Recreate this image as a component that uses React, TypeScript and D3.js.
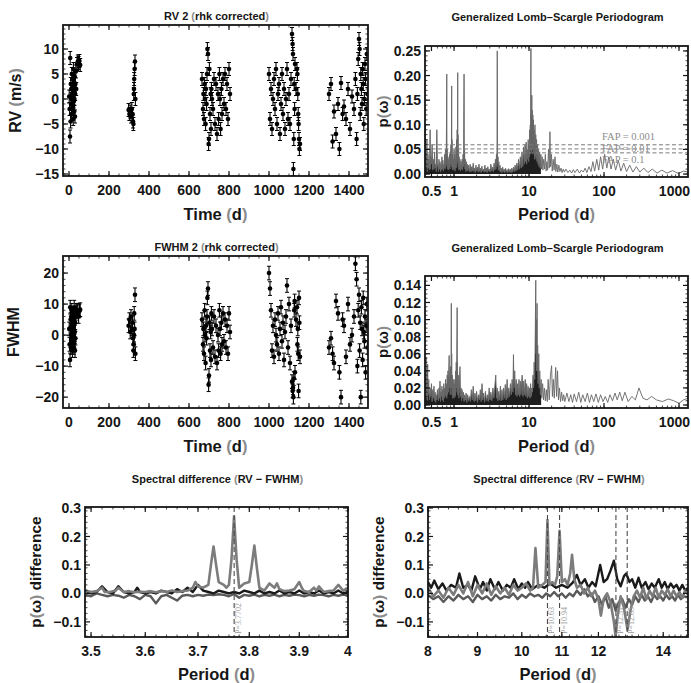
import React, { useRef, useEffect } from "react";
import * as d3 from "d3";

// ---------------- data ----------------

// observation epochs (d), shared by RV and FWHM
const obsTime = [
  1, 3, 5, 6, 8, 9, 10, 11, 12, 13,
  14, 15, 16, 17, 18, 19, 20, 21, 22, 23,
  24, 25, 26, 27, 28, 29, 30, 31, 32, 34,
  36, 40, 44, 48, 52, 56,
  298, 302, 306, 310, 314, 318, 320, 322, 324, 325,
  326, 328, 330, 332,
  665, 670, 672, 675, 678, 680, 683, 685, 688, 690,
  692, 695, 698, 700, 702, 705, 708, 710, 712, 715,
  720, 725, 730, 735, 740, 745, 748, 752, 755, 758,
  762, 765, 770, 775, 780, 785, 790, 795, 800, 805,
  1000, 1005, 1010, 1015, 1020, 1025, 1030, 1035, 1040, 1045,
  1050, 1055, 1060, 1065, 1070, 1075, 1080, 1085, 1090, 1095,
  1100, 1105, 1110, 1115, 1118, 1120, 1122, 1124, 1126, 1128,
  1130, 1135, 1140, 1142, 1144, 1146, 1148, 1150, 1152, 1155,
  1300, 1310, 1318, 1325, 1335, 1345, 1352, 1360, 1368, 1375,
  1385, 1395, 1405, 1415, 1425, 1432, 1438, 1442, 1446, 1450,
  1453, 1456, 1459, 1462, 1465, 1468, 1471, 1474, 1477, 1480,
  1483, 1486, 1489, 1492,
];

// RV 2 (rhk corrected), m/s
const rvValues = [
  0.5, -2, -7.5, 8.2, -4.5, 3, -1, 2, 0, -3,
  5, 1, -2, 4, 0.5, -1.5, 2.5, -4, 6, 1.5,
  -0.5, 3.5, -2.5, 0, 4.5, 2, -3.5, 1, 3, 5.5,
  2, 7, 7.5, 7.2, 7.6, 6.8,
  -2.2, -3, -2.5, -3.5, -2, -3, -4.5, -5, 1, 2,
  4, 6, 7.5, 0,
  4, -2, 1, -4, 3, 0, -5, 2, -1, 5,
  10, 9, -9, -8, 6, -3, 1, -6, 2, 0,
  -2, 4, -5, 3, -7, 1, -4, 5, 0, -6,
  2, -3, 4, -1, 5, -2, 3, -4, 6, 1,
  5, -4, 2, -6, 0, 4, -2, 6, -5, 1,
  3, -7, -1, 5, -3, 2, -6, 0, 6, -4,
  1, -5, 4, 13, 11, 9, -14, -8, 3, -2,
  7, 2, 6, 5, 1, -3, -5, -8, -10, -9,
  1, 3, -8.5, -2.5, -7, -1, -10, 3.2, -3, -1.5,
  -4, 2, -6, 0.5, -2, 4, -8, 1, 8, 12,
  10, -3, 5, 2, -1, 6, 3, -5, 0, 7,
  4, -2, 9, 1,
];

// FWHM 2 (rhk corrected)
const fwhmValues = [
  2, -3, -8, 9, 5, -4, 0, 6, -2, 3,
  8, -1, 4, -5, 1, 7, -3, 2, 5, 0,
  -4, 3, 9, -2, 6, 1, -5, 4, -1, 7,
  8, 7.5, 8, 6, 7.8, 8.2,
  3, 5, 1, 6, 2, 4, -1, -5, -3, 0,
  7, 2, 13, -6,
  5, -3, 2, -6, 8, 0, -9, 3, -1, 6,
  12, 15, -16, -13, 4, -5, 1, -8, 7, 2,
  -4, 6, -7, 3, -9, 0, -5, 8, 2, -6,
  4, -3, 7, -2, 5, -4, 3, -6, 7, 1,
  20, 15, 8, -5, 3, -7, 5, 0, -3, 7,
  -6, 2, 9, -2, 4, -8, 1, 6, 16, -4,
  10, -9, 3, -15, -18, -17, -20, -14, 8, 11,
  -12, 5, 9, -3, 2, -6, -18, 12, 4, -7,
  -4, -1, -6, -9, 11, 7, -12, -20, 5, 3,
  -7, 10, -3, 0, 6, 23, 18, -10, 8, 13,
  -5, 4, -20, 9, 2, -8, 12, 1, -2, 6,
  -12, 3, 10, -4,
];

const rvError = 1.3;
const fwhmError = 2.2;

// Generalized Lomb-Scargle periodogram of RV: [period (d), power]
const rvGls = [
  [0.41, 0.02], [0.415, 0.1], [0.42, 0.01], [0.425, 0.05], [0.43, 0.015], [0.435, 0.07], [0.44, 0.005], [0.45, 0.04],
  [0.455, 0.012], [0.46, 0.03], [0.47, 0.008], [0.48, 0.09], [0.485, 0.01], [0.49, 0.035], [0.5, 0.02], [0.51, 0.06],
  [0.52, 0.008], [0.53, 0.03], [0.54, 0.01], [0.55, 0.045], [0.56, 0.012], [0.57, 0.02], [0.58, 0.005], [0.59, 0.09],
  [0.6, 0.015], [0.61, 0.02], [0.62, 0.005], [0.63, 0.03], [0.64, 0.01], [0.65, 0.025], [0.66, 0.004], [0.67, 0.02],
  [0.68, 0.008], [0.69, 0.035], [0.7, 0.01], [0.71, 0.028], [0.72, 0.006], [0.73, 0.02], [0.74, 0.012], [0.75, 0.04],
  [0.76, 0.01], [0.77, 0.05], [0.78, 0.015], [0.79, 0.06], [0.8, 0.203], [0.805, 0.02], [0.81, 0.05], [0.82, 0.01],
  [0.83, 0.035], [0.84, 0.008], [0.85, 0.03], [0.86, 0.012], [0.87, 0.04], [0.88, 0.01], [0.89, 0.045], [0.9, 0.02],
  [0.91, 0.06], [0.92, 0.015], [0.93, 0.179], [0.935, 0.02], [0.94, 0.07], [0.95, 0.01], [0.96, 0.04], [0.97, 0.008],
  [0.98, 0.03], [0.99, 0.012], [1.0, 0.05], [1.01, 0.01], [1.02, 0.04], [1.03, 0.006], [1.04, 0.03], [1.05, 0.015],
  [1.06, 0.055], [1.07, 0.012], [1.08, 0.07], [1.09, 0.02], [1.1, 0.09], [1.11, 0.03], [1.12, 0.206], [1.125, 0.025],
  [1.13, 0.08], [1.14, 0.015], [1.15, 0.05], [1.16, 0.008], [1.17, 0.035], [1.18, 0.01], [1.2, 0.03], [1.22, 0.006],
  [1.24, 0.025], [1.26, 0.01], [1.28, 0.03], [1.3, 0.008], [1.32, 0.04], [1.34, 0.015], [1.36, 0.203], [1.37, 0.02],
  [1.38, 0.05], [1.4, 0.01], [1.42, 0.03], [1.44, 0.005], [1.46, 0.025], [1.48, 0.008], [1.5, 0.02], [1.53, 0.006],
  [1.56, 0.018], [1.6, 0.005], [1.64, 0.02], [1.68, 0.004], [1.72, 0.015], [1.76, 0.006], [1.8, 0.022], [1.84, 0.005],
  [1.88, 0.012], [1.92, 0.003], [1.96, 0.018], [2.0, 0.006], [2.05, 0.014], [2.1, 0.004], [2.15, 0.02], [2.2, 0.005],
  [2.25, 0.012], [2.3, 0.003], [2.35, 0.016], [2.4, 0.006], [2.46, 0.01], [2.52, 0.004], [2.58, 0.018], [2.64, 0.005],
  [2.7, 0.012], [2.76, 0.003], [2.82, 0.015], [2.88, 0.006], [2.95, 0.01], [3.02, 0.004], [3.1, 0.02], [3.18, 0.006],
  [3.26, 0.014], [3.34, 0.005], [3.42, 0.022], [3.5, 0.008], [3.56, 0.03], [3.62, 0.01], [3.68, 0.04], [3.72, 0.015],
  [3.75, 0.06], [3.77, 0.25], [3.79, 0.04], [3.82, 0.02], [3.86, 0.035], [3.9, 0.008], [3.96, 0.025], [4.02, 0.006],
  [4.1, 0.018], [4.18, 0.004], [4.26, 0.012], [4.35, 0.003], [4.45, 0.014], [4.55, 0.005], [4.65, 0.01], [4.75, 0.003],
  [4.86, 0.012], [4.97, 0.004], [5.1, 0.009], [5.22, 0.003], [5.35, 0.011], [5.48, 0.004], [5.62, 0.01], [5.76, 0.003],
  [5.9, 0.012], [6.05, 0.004], [6.2, 0.014], [6.36, 0.005], [6.52, 0.018], [6.7, 0.006], [6.88, 0.022], [7.05, 0.008],
  [7.25, 0.03], [7.45, 0.01], [7.65, 0.035], [7.85, 0.012], [8.05, 0.045], [8.25, 0.015], [8.45, 0.055], [8.65, 0.02],
  [8.85, 0.06], [9.0, 0.025], [9.15, 0.065], [9.3, 0.02], [9.45, 0.05], [9.6, 0.03], [9.75, 0.07], [9.9, 0.025],
  [10.0, 0.06], [10.1, 0.035], [10.2, 0.09], [10.3, 0.04], [10.4, 0.1], [10.5, 0.05], [10.6, 0.255], [10.65, 0.06],
  [10.7, 0.12], [10.8, 0.045], [10.9, 0.16], [10.95, 0.06], [11.05, 0.13], [11.15, 0.05], [11.25, 0.12], [11.35, 0.04],
  [11.45, 0.11], [11.55, 0.05], [11.7, 0.09], [11.85, 0.03], [12.0, 0.1], [12.15, 0.035], [12.3, 0.08], [12.45, 0.03],
  [12.6, 0.07], [12.8, 0.025], [13.0, 0.06], [13.2, 0.02], [13.4, 0.05], [13.6, 0.015], [13.85, 0.045], [14.1, 0.012],
  [14.4, 0.04], [14.7, 0.01], [15.0, 0.035], [15.3, 0.008], [15.7, 0.03], [16.1, 0.01], [16.5, 0.04], [16.9, 0.006],
  [17.3, 0.025], [17.7, 0.008], [18.2, 0.05], [18.6, 0.012], [19.0, 0.086], [19.4, 0.015], [19.9, 0.04], [20.4, 0.006],
  [21.0, 0.03], [21.6, 0.008], [22.2, 0.035], [22.8, 0.005], [23.5, 0.02], [24.2, 0.004], [25.0, 0.018], [25.8, 0.005],
  [26.7, 0.012], [27.6, 0.003], [28.6, 0.01], [29.6, 0.004], [31, 0.01], [33, 0.003], [35, 0.008], [37, 0.002],
  [39, 0.009], [41, 0.003], [44, 0.01], [47, 0.002], [50, 0.008], [53, 0.004], [56, 0.012], [59, 0.003],
  [63, 0.015], [67, 0.005], [71, 0.025], [75, 0.006], [80, 0.03], [85, 0.008], [90, 0.035], [96, 0.01],
  [102, 0.04], [109, 0.012], [116, 0.035], [124, 0.01], [133, 0.03], [143, 0.008], [155, 0.028], [168, 0.006],
  [183, 0.022], [200, 0.005], [220, 0.018], [243, 0.004], [270, 0.015], [300, 0.004], [340, 0.012], [385, 0.003],
  [440, 0.01], [510, 0.002], [590, 0.008], [690, 0.002], [820, 0.007], [980, 0.001], [1150, 0.006], [1320, 0.004],
];

// Generalized Lomb-Scargle periodogram of FWHM: [period (d), power]
const fwhmGls = [
  [0.41, 0.015], [0.415, 0.04], [0.42, 0.008], [0.425, 0.056], [0.43, 0.01], [0.435, 0.03], [0.44, 0.005], [0.445, 0.048],
  [0.45, 0.012], [0.46, 0.03], [0.47, 0.006], [0.48, 0.02], [0.49, 0.01], [0.5, 0.025], [0.51, 0.004], [0.52, 0.018],
  [0.53, 0.008], [0.54, 0.022], [0.55, 0.005], [0.56, 0.015], [0.57, 0.003], [0.58, 0.012], [0.59, 0.006], [0.6, 0.018],
  [0.62, 0.005], [0.63, 0.02], [0.64, 0.008], [0.65, 0.028], [0.66, 0.004], [0.67, 0.015], [0.68, 0.01], [0.69, 0.022],
  [0.7, 0.006], [0.71, 0.018], [0.72, 0.004], [0.73, 0.025], [0.74, 0.008], [0.75, 0.02], [0.76, 0.01], [0.77, 0.03],
  [0.78, 0.012], [0.79, 0.025], [0.8, 0.008], [0.81, 0.035], [0.82, 0.012], [0.83, 0.04], [0.84, 0.015], [0.86, 0.058],
  [0.87, 0.02], [0.88, 0.035], [0.89, 0.012], [0.9, 0.045], [0.91, 0.02], [0.92, 0.119], [0.925, 0.02], [0.93, 0.06],
  [0.94, 0.012], [0.95, 0.035], [0.96, 0.008], [0.97, 0.025], [0.98, 0.01], [0.99, 0.03], [1.0, 0.008], [1.01, 0.025],
  [1.02, 0.012], [1.03, 0.03], [1.04, 0.01], [1.05, 0.04], [1.06, 0.015], [1.07, 0.05], [1.08, 0.02], [1.09, 0.06],
  [1.1, 0.114], [1.105, 0.02], [1.11, 0.05], [1.12, 0.012], [1.14, 0.035], [1.16, 0.008], [1.18, 0.025], [1.2, 0.045],
  [1.22, 0.01], [1.24, 0.02], [1.26, 0.005], [1.28, 0.018], [1.3, 0.008], [1.33, 0.015], [1.36, 0.004], [1.39, 0.012],
  [1.42, 0.006], [1.45, 0.014], [1.48, 0.003], [1.52, 0.012], [1.56, 0.005], [1.6, 0.01], [1.65, 0.004], [1.7, 0.018],
  [1.75, 0.006], [1.8, 0.022], [1.85, 0.004], [1.9, 0.014], [1.95, 0.005], [2.0, 0.016], [2.06, 0.003], [2.12, 0.012],
  [2.18, 0.006], [2.24, 0.018], [2.3, 0.004], [2.36, 0.025], [2.42, 0.006], [2.48, 0.014], [2.55, 0.003], [2.62, 0.016],
  [2.7, 0.005], [2.78, 0.012], [2.86, 0.004], [2.94, 0.02], [3.02, 0.006], [3.1, 0.015], [3.2, 0.005], [3.3, 0.02],
  [3.4, 0.008], [3.5, 0.022], [3.6, 0.035], [3.68, 0.008], [3.76, 0.02], [3.85, 0.005], [3.95, 0.016], [4.05, 0.006],
  [4.15, 0.022], [4.25, 0.005], [4.36, 0.018], [4.47, 0.006], [4.58, 0.02], [4.7, 0.008], [4.82, 0.024], [4.95, 0.006],
  [5.1, 0.03], [5.22, 0.008], [5.35, 0.02], [5.5, 0.01], [5.65, 0.025], [5.8, 0.012], [5.95, 0.03], [6.1, 0.015],
  [6.2, 0.059], [6.3, 0.02], [6.45, 0.04], [6.6, 0.012], [6.75, 0.03], [6.9, 0.01], [7.05, 0.025], [7.2, 0.012],
  [7.35, 0.03], [7.5, 0.01], [7.65, 0.028], [7.8, 0.012], [7.95, 0.025], [8.1, 0.035], [8.3, 0.01], [8.5, 0.028],
  [8.7, 0.012], [8.9, 0.03], [9.1, 0.01], [9.3, 0.025], [9.5, 0.008], [9.7, 0.022], [9.9, 0.01], [10.1, 0.02],
  [10.3, 0.008], [10.5, 0.025], [10.7, 0.01], [10.9, 0.02], [11.1, 0.015], [11.3, 0.035], [11.5, 0.02], [11.7, 0.05],
  [11.9, 0.03], [12.1, 0.08], [12.3, 0.146], [12.4, 0.06], [12.55, 0.1], [12.65, 0.04], [12.8, 0.119], [12.9, 0.04],
  [13.05, 0.07], [13.2, 0.025], [13.5, 0.06], [13.7, 0.02], [13.9, 0.04], [14.2, 0.012], [14.5, 0.03], [14.8, 0.008],
  [15.2, 0.025], [15.6, 0.006], [16.0, 0.02], [16.5, 0.005], [17.0, 0.018], [17.5, 0.004], [18.0, 0.03], [18.6, 0.006],
  [19.3, 0.035], [20.0, 0.046], [20.5, 0.01], [21.1, 0.03], [21.7, 0.008], [22.7, 0.044], [23.3, 0.01], [24.0, 0.04],
  [24.7, 0.006], [25.5, 0.02], [26.3, 0.004], [27.2, 0.015], [28.1, 0.005], [29.0, 0.012], [30, 0.004], [32, 0.014],
  [34, 0.004], [36, 0.012], [38, 0.003], [40, 0.013], [43, 0.004], [46, 0.015], [49, 0.003], [52, 0.012],
  [56, 0.004], [60, 0.014], [64, 0.003], [68, 0.012], [73, 0.004], [78, 0.013], [84, 0.003], [90, 0.012],
  [97, 0.004], [104, 0.01], [112, 0.003], [120, 0.012], [130, 0.005], [140, 0.014], [150, 0.006], [162, 0.015],
  [175, 0.005], [190, 0.015], [210, 0.004], [235, 0.01], [262, 0.006], [292, 0.02], [330, 0.008], [375, 0.006],
  [430, 0.01], [500, 0.006], [600, 0.004], [720, 0.007], [850, 0.005], [1000, 0.002], [1150, 0.006], [1320, 0.008],
];

// the densely sampled short-period part of each periodogram prints as a black forest
const forestLimit = 14.5;

// false alarm probability levels (RV periodogram)
const fapLevels = [0.0594, 0.051, 0.043];
const fapLabels = ["FAP = 0.001", "FAP = 0.01", "FAP = 0.1"];

// spectral difference (RV − FWHM) around 3.77 d: [period, difference]
const diffNarrowGray = [
  [3.49, 0.01], [3.5, 0.005], [3.51, 0.008], [3.52, 0.02], [3.525, 0.005], [3.535, 0.005], [3.545, 0.01], [3.55, 0.02],
  [3.56, 0.005], [3.57, 0.008], [3.58, 0.004], [3.59, 0.006], [3.6, 0.005], [3.61, 0.008], [3.62, 0.004], [3.63, 0.008],
  [3.64, 0.005], [3.65, 0.01], [3.66, 0.005], [3.67, 0.008], [3.68, 0.01], [3.69, 0.02], [3.695, 0.04], [3.7, 0.025],
  [3.71, 0.02], [3.72, 0.03], [3.725, 0.1], [3.73, 0.165], [3.735, 0.1], [3.74, 0.04], [3.75, 0.03], [3.755, 0.02],
  [3.76, 0.03], [3.765, 0.12], [3.77, 0.27], [3.775, 0.12], [3.78, 0.02], [3.79, 0.035], [3.8, 0.04], [3.805, 0.1],
  [3.81, 0.168], [3.815, 0.09], [3.82, 0.02], [3.83, 0.01], [3.84, 0.035], [3.85, 0.02], [3.855, 0.035], [3.86, 0.015],
  [3.87, 0.008], [3.88, 0.01], [3.89, 0.015], [3.9, 0.04], [3.905, 0.02], [3.91, 0.008], [3.92, 0.005], [3.93, 0.02],
  [3.935, 0.01], [3.94, 0.025], [3.95, 0.005], [3.96, 0.008], [3.97, 0.01], [3.98, 0.03], [3.99, 0.01], [4.0, 0.02],
];
const diffNarrowBlack = [
  [3.49, 0.01], [3.5, 0.0], [3.51, 0.005], [3.52, 0.025], [3.53, 0.005], [3.54, 0.0], [3.55, 0.025], [3.56, 0.005],
  [3.57, 0.0], [3.58, 0.005], [3.585, 0.02], [3.59, 0.005], [3.6, 0.0], [3.61, 0.005], [3.62, 0.0], [3.63, 0.01],
  [3.64, 0.005], [3.65, 0.0], [3.66, 0.015], [3.67, 0.005], [3.68, 0.02], [3.69, 0.005], [3.7, 0.03], [3.71, 0.01],
  [3.72, 0.005], [3.73, 0.0], [3.74, 0.01], [3.75, 0.005], [3.76, 0.0], [3.77, 0.005], [3.78, 0.0], [3.79, 0.01],
  [3.8, 0.005], [3.81, 0.0], [3.82, 0.01], [3.83, 0.0], [3.84, 0.005], [3.85, 0.0], [3.86, 0.01], [3.87, 0.0],
  [3.88, 0.005], [3.89, 0.0], [3.9, 0.01], [3.91, 0.0], [3.92, 0.005], [3.93, 0.0], [3.94, 0.01], [3.95, 0.0],
  [3.96, 0.005], [3.97, 0.0], [3.98, 0.01], [3.99, 0.0], [4.0, 0.005],
];
const diffNarrowDark = [
  [3.49, -0.005], [3.5, -0.01], [3.51, 0.0], [3.52, -0.005], [3.53, -0.01], [3.54, -0.005], [3.55, -0.008], [3.56, -0.015],
  [3.57, -0.005], [3.58, -0.01], [3.59, -0.02], [3.6, -0.005], [3.61, -0.01], [3.62, -0.035], [3.63, -0.01], [3.64, -0.005],
  [3.65, -0.015], [3.66, -0.025], [3.67, -0.008], [3.68, -0.005], [3.69, -0.01], [3.7, -0.005], [3.71, -0.008], [3.72, -0.004],
  [3.73, -0.006], [3.74, -0.003], [3.75, -0.005], [3.76, -0.01], [3.77, -0.002], [3.78, -0.015], [3.79, -0.005], [3.8, -0.008],
  [3.81, -0.004], [3.82, -0.01], [3.83, -0.005], [3.84, -0.008], [3.85, -0.004], [3.86, -0.01], [3.87, -0.005], [3.88, -0.008],
  [3.89, -0.004], [3.9, -0.006], [3.91, -0.01], [3.92, -0.005], [3.93, -0.008], [3.94, -0.004], [3.95, -0.006], [3.96, -0.01],
  [3.97, -0.005], [3.98, -0.008], [3.99, -0.004], [4.0, -0.006],
];
const narrowMarks = [3.7702];
const narrowMarkLabels = ["P=3.7702"];

// spectral difference (RV − FWHM) between 8 and 15 d
const diffWideGray = [
  [8.0, 0.02], [8.1, -0.01], [8.2, 0.01], [8.3, -0.015], [8.4, 0.02], [8.5, -0.005], [8.6, 0.03], [8.7, 0.0],
  [8.8, 0.04], [8.9, -0.01], [9.0, 0.03], [9.1, 0.0], [9.2, 0.035], [9.3, -0.005], [9.4, 0.025], [9.5, 0.0],
  [9.6, 0.02], [9.7, -0.005], [9.8, 0.03], [9.9, 0.01], [10.0, 0.02], [10.1, 0.035], [10.2, 0.01], [10.27, 0.02],
  [10.33, 0.159], [10.4, 0.02], [10.5, 0.03], [10.58, 0.04], [10.63, 0.258], [10.68, 0.03], [10.75, 0.04], [10.82, 0.03],
  [10.88, 0.06], [10.94, 0.22], [11.0, 0.04], [11.08, 0.05], [11.15, 0.03], [11.22, 0.07], [11.27, 0.136], [11.33, 0.05],
  [11.4, 0.02], [11.5, 0.03], [11.6, 0.0], [11.7, 0.02], [11.8, -0.01], [11.9, 0.01], [12.0, -0.02], [12.07, -0.078],
  [12.15, -0.02], [12.25, 0.0], [12.35, -0.03], [12.45, -0.1], [12.5, -0.152], [12.56, -0.08], [12.65, -0.01], [12.75, -0.05],
  [12.86, -0.128], [12.95, -0.06], [13.05, -0.01], [13.15, 0.01], [13.25, -0.015], [13.35, 0.02], [13.45, -0.02], [13.55, 0.01],
  [13.65, -0.01], [13.75, 0.02], [13.85, -0.015], [13.95, 0.01], [14.05, -0.005], [14.15, 0.015], [14.25, -0.01], [14.35, 0.01],
  [14.45, -0.01], [14.55, 0.005], [14.65, -0.015], [14.75, 0.01], [14.85, -0.005],
];
const diffWideBlack = [
  [8.0, 0.04], [8.06, 0.02], [8.12, 0.045], [8.2, 0.015], [8.28, 0.035], [8.36, 0.01], [8.45, 0.03], [8.55, 0.02],
  [8.62, 0.07], [8.7, 0.02], [8.8, 0.03], [8.87, 0.01], [8.95, 0.06], [9.05, 0.015], [9.12, 0.04], [9.2, 0.01],
  [9.28, 0.05], [9.38, 0.015], [9.46, 0.04], [9.56, 0.01], [9.65, 0.03], [9.74, 0.02], [9.82, 0.05], [9.92, 0.015],
  [10.0, 0.035], [10.08, 0.02], [10.15, 0.04], [10.25, 0.015], [10.4, 0.03], [10.55, 0.02], [10.7, 0.035], [10.85, 0.02],
  [11.0, 0.03], [11.15, 0.02], [11.3, 0.04], [11.4, 0.065], [11.5, 0.03], [11.62, 0.05], [11.72, 0.02], [11.82, 0.04],
  [11.92, 0.025], [12.05, 0.1], [12.15, 0.04], [12.25, 0.05], [12.35, 0.08], [12.45, 0.115], [12.55, 0.05], [12.65, 0.025],
  [12.75, 0.06], [12.82, 0.07], [12.92, 0.04], [13.0, 0.05], [13.1, 0.02], [13.2, 0.055], [13.3, 0.02], [13.42, 0.04],
  [13.52, 0.015], [13.62, 0.035], [13.72, 0.02], [13.85, 0.05], [13.95, 0.02], [14.05, 0.04], [14.15, 0.015], [14.25, 0.035],
  [14.35, 0.02], [14.45, 0.03], [14.55, 0.01], [14.65, 0.03], [14.75, 0.01], [14.85, 0.02],
];
const diffWideDark = [
  [8.0, -0.005], [8.1, -0.02], [8.2, -0.01], [8.3, -0.03], [8.4, -0.01], [8.5, -0.025], [8.6, -0.005], [8.7, -0.02],
  [8.8, -0.01], [8.9, -0.03], [9.0, -0.005], [9.1, -0.02], [9.2, -0.01], [9.3, -0.025], [9.4, -0.005], [9.5, -0.02],
  [9.6, -0.01], [9.7, -0.015], [9.8, 0.0], [9.9, -0.02], [10.0, -0.005], [10.1, -0.015], [10.2, 0.0], [10.3, -0.01],
  [10.4, -0.005], [10.5, -0.015], [10.6, 0.0], [10.7, -0.01], [10.8, 0.005], [10.9, -0.01], [11.0, 0.0], [11.1, -0.015],
  [11.2, 0.0], [11.3, -0.01], [11.4, 0.01], [11.5, -0.005], [11.6, 0.015], [11.7, -0.01], [11.8, 0.0], [11.9, -0.03],
  [12.0, -0.01], [12.1, -0.04], [12.2, -0.01], [12.3, -0.05], [12.4, -0.02], [12.5, -0.06], [12.6, -0.03], [12.7, -0.02],
  [12.8, -0.05], [12.9, -0.02], [13.0, -0.04], [13.1, -0.01], [13.2, -0.03], [13.3, -0.005], [13.4, -0.025], [13.5, -0.01],
  [13.6, -0.03], [13.7, -0.005], [13.8, -0.02], [13.9, -0.01], [14.0, -0.025], [14.1, -0.005], [14.2, -0.02], [14.3, -0.01],
  [14.4, -0.025], [14.5, -0.005], [14.6, -0.02], [14.7, -0.01], [14.85, -0.015],
];
const wideMarks = [10.63, 10.94, 12.51, 12.85];
const wideMarkLabels = ["P=10.63", "P=10.94", "P=12.51", "P=12.85"];

// tick values
const timeTicks = [0, 200, 400, 600, 800, 1000, 1200, 1400];
const rvTicks = [-15, -10, -5, 0, 5, 10];
const fwhmTicks = [-20, -10, 0, 10, 20];
const periodTicks = [0.5, 1, 10, 100, 1000];
const rvPowerTicks = [0, 0.05, 0.1, 0.15, 0.2, 0.25];
const fwhmPowerTicks = [0, 0.02, 0.04, 0.06, 0.08, 0.1, 0.12, 0.14];
const diffTicks = [-0.1, 0, 0.1, 0.2, 0.3];
const narrowPeriodTicks = [3.5, 3.6, 3.7, 3.8, 3.9, 4];
const widePeriodTicks = [8, 9, 10, 11, 12, 14];

// ---------------- drawing helpers ----------------

const FONT = "'Liberation Sans', Arial, Helvetica, sans-serif";
const INK = "#161616";
const PAREN = "#8c8c8c";

type Part = [string, boolean?];

function rich(sel: any, parts: Part[]) {
  parts.forEach(([t, gray]) => sel.append("tspan").text(t).attr("fill", gray ? PAREN : INK));
}

const minus = (s: string) => s.replace("-", "\u2212");

function drawFrame(svg: any, o: any) {
  const { x, y } = o;
  const [l, r] = x.range();
  const [b, t] = y.range();
  const g = svg.append("g");

  const tick = (x1: number, y1: number, x2: number, y2: number, w: number) =>
    g.append("line").attr("x1", x1).attr("y1", y1).attr("x2", x2).attr("y2", y2)
      .attr("stroke", INK).attr("stroke-width", w);

  o.xMinor.forEach((v: number) => {
    const px = x(v);
    if (px < l || px > r) return;
    tick(px, b, px, b - 2.5, 0.8);
    tick(px, t, px, t + 2.5, 0.8);
  });
  o.yMinor.forEach((v: number) => {
    const py = y(v);
    if (py > b || py < t) return;
    tick(l, py, l + 2.5, py, 0.8);
    tick(r, py, r - 2.5, py, 0.8);
  });
  o.xTicks.forEach((v: number) => {
    const px = x(v);
    tick(px, b, px, b - 5, 1.2);
    tick(px, t, px, t + 5, 1.2);
    const lab = g.append("text").attr("x", px).attr("y", b + 19).attr("text-anchor", "middle")
      .attr("font-family", FONT).attr("font-weight", "bold").attr("font-size", 14)
      .attr("fill", INK).text(minus(o.xFmt(v)));
    // keep labels inside the page
    const w = (lab.node() as SVGTextElement).getComputedTextLength();
    if (px + w / 2 > 690) lab.attr("x", 690 - w / 2);
  });
  o.yTicks.forEach((v: number) => {
    const py = y(v);
    tick(l, py, l + 5, py, 1.2);
    tick(r, py, r - 5, py, 1.2);
    g.append("text").attr("x", l - 4).attr("y", py).attr("dy", "0.36em").attr("text-anchor", "end")
      .attr("font-family", FONT).attr("font-weight", "bold").attr("font-size", 14)
      .attr("fill", INK).text(minus(o.yFmt(v)));
  });

  g.append("rect").attr("x", l).attr("y", t).attr("width", r - l).attr("height", b - t)
    .attr("fill", "none").attr("stroke", INK).attr("stroke-width", 1.8);

  const title = g.append("text").attr("x", (l + r) / 2 + 1).attr("y", o.titleY)
    .attr("text-anchor", "middle").attr("font-family", FONT).attr("font-weight", "bold")
    .attr("font-size", 11);
  rich(title, o.title);

  const xl = g.append("text").attr("x", (l + r) / 2).attr("y", b + o.xLabelDy)
    .attr("text-anchor", "middle").attr("font-family", FONT).attr("font-weight", "bold")
    .attr("font-size", 16.5);
  rich(xl, o.xLabel);

  const yl = g.append("text")
    .attr("transform", `translate(${o.yLabelX},${(t + b) / 2}) rotate(-90)`)
    .attr("text-anchor", "middle").attr("font-family", FONT).attr("font-weight", "bold")
    .attr("font-size", o.yLabelSize || 16);
  rich(yl, o.yLabel);
}

function clipTo(svg: any, id: string, x: any, y: any) {
  const [l, r] = x.range();
  const [b, t] = y.range();
  svg.append("clipPath").attr("id", id).append("rect")
    .attr("x", l).attr("y", t).attr("width", r - l).attr("height", b - t);
  return svg.append("g").attr("clip-path", `url(#${id})`);
}

function drawSeries(svg: any, id: string, x: any, y: any, values: number[], err: number) {
  const g = clipTo(svg, id, x, y);
  obsTime.forEach((t, i) => {
    const px = x(t);
    const v = values[i];
    g.append("line").attr("x1", px).attr("x2", px).attr("y1", y(v - err)).attr("y2", y(v + err))
      .attr("stroke", "#000").attr("stroke-width", 1.1);
    [v - err, v + err].forEach((e) =>
      g.append("line").attr("x1", px - 2).attr("x2", px + 2).attr("y1", y(e)).attr("y2", y(e))
        .attr("stroke", "#000").attr("stroke-width", 1));
    g.append("circle").attr("cx", px).attr("cy", y(v)).attr("r", 2.3).attr("fill", "#000");
  });
}

function drawCurve(g: any, x: any, y: any, data: number[][], color: string, width: number) {
  const line = d3.line<number[]>().x((d) => x(d[0])).y((d) => y(d[1]));
  g.append("path").datum(data).attr("fill", "none").attr("stroke", color)
    .attr("stroke-width", width).attr("stroke-linejoin", "round").attr("d", line);
}

function drawPeriodogram(g: any, x: any, y: any, data: number[][]) {
  const forest = data.filter((d) => d[0] <= forestLimit);
  const area = d3.area<number[]>().x((d) => x(d[0])).y0(y(0)).y1((d) => y(d[1]));
  g.append("path").datum(forest).attr("fill", "#1e1e1e").attr("d", area);
  drawCurve(g, x, y, data, "#676767", 0.9);
}

function drawMarks(g: any, x: any, y: any, marks: number[], labels: string[]) {
  const [b, t] = y.range();
  marks.forEach((m, i) => {
    const px = x(m);
    g.append("line").attr("x1", px).attr("x2", px).attr("y1", t).attr("y2", b)
      .attr("stroke", "#4a4a4a").attr("stroke-width", 1.1).attr("stroke-dasharray", "5,3");
    g.append("text").attr("transform", `translate(${px + 7},${b - 3}) rotate(-90)`)
      .attr("font-family", "'Liberation Serif', serif").attr("font-size", 8)
      .attr("fill", "#9a9a9a").text(labels[i]);
  });
}

// ---------------- component ----------------

function SpectralChart() {
  const svgRef = useRef<SVGSVGElement>(null);

  useEffect(() => {
    const svg = d3.select(svgRef.current);
    svg.selectAll("*").remove();

    const timeLabel: Part[] = [["Time "], ["(", true], ["d"], [")", true]];
    const periodLabel: Part[] = [["Period  "], ["(", true], ["d"], [")", true]];
    const pLabel: Part[] = [["p"], ["(", true], ["\u03c9"], [")", true]];
    const fmtInt = d3.format("d");
    const fmt2 = d3.format(".2f");
    const fmt1 = d3.format(".1f");
    const fmtG = (v: number) => String(v);

    // --- RV time series
    const x1 = d3.scaleLinear().domain([-30, 1495]).range([63, 368]);
    const y1 = d3.scaleLinear().domain([-15.4, 14.8]).range([176, 25]);
    drawSeries(svg, "c1", x1, y1, rvValues, rvError);
    drawFrame(svg, {
      x: x1, y: y1, xTicks: timeTicks, yTicks: rvTicks,
      xMinor: d3.range(0, 1500, 50), yMinor: d3.range(-15, 15, 1),
      xFmt: fmtInt, yFmt: fmtInt, titleY: 20, xLabelDy: 44, yLabelX: 21,
      title: [["RV 2 "], ["(", true], ["rhk corrected"], [")", true]],
      xLabel: timeLabel, yLabel: [["RV  "], ["(", true], ["m/s"], [")", true]],
    });

    // --- RV periodogram
    const x2 = d3.scaleLog().domain([0.41, 1318]).range([425, 688]);
    const y2 = d3.scaleLinear().domain([-0.006, 0.26]).range([177, 46]);
    const g2 = clipTo(svg, "c2", x2, y2);
    drawPeriodogram(g2, x2, y2, rvGls);
    fapLevels.forEach((f) =>
      g2.append("line").attr("x1", 425).attr("x2", 688).attr("y1", y2(f)).attr("y2", y2(f))
        .attr("stroke", "#7a7a7a").attr("stroke-width", 1).attr("stroke-dasharray", "4,2.5"));
    const fapDy = [-5, 3, 10];
    fapLabels.forEach((s, i) =>
      svg.append("text").attr("x", 602).attr("y", y2(fapLevels[i]) + fapDy[i])
        .attr("font-family", "'Liberation Serif', serif").attr("font-size", 10.5)
        .attr("fill", "#8c8c8c").text(s));
    drawFrame(svg, {
      x: x2, y: y2, xTicks: periodTicks, yTicks: rvPowerTicks,
      xMinor: x2.ticks(), yMinor: d3.range(0, 0.26, 0.01),
      xFmt: fmtG, yFmt: fmt2, titleY: 21, xLabelDy: 43, yLabelX: 388, yLabelSize: 15,
      title: [["Generalized Lomb\u2013Scargle Periodogram"]],
      xLabel: periodLabel, yLabel: pLabel,
    });

    // --- FWHM time series
    const x3 = d3.scaleLinear().domain([-30, 1495]).range([63, 368]);
    const y3 = d3.scaleLinear().domain([-23.5, 25.5]).range([408, 256]);
    drawSeries(svg, "c3", x3, y3, fwhmValues, fwhmError);
    drawFrame(svg, {
      x: x3, y: y3, xTicks: timeTicks, yTicks: fwhmTicks,
      xMinor: d3.range(0, 1500, 50), yMinor: d3.range(-20, 25, 2),
      xFmt: fmtInt, yFmt: fmtInt, titleY: 251, xLabelDy: 44, yLabelX: 19,
      title: [["FWHM 2  "], ["(", true], ["rhk corrected"], [")", true]],
      xLabel: timeLabel, yLabel: [["FWHM"]],
    });

    // --- FWHM periodogram
    const x4 = d3.scaleLog().domain([0.41, 1318]).range([425, 688]);
    const y4 = d3.scaleLinear().domain([-0.0035, 0.151]).range([408, 276]);
    const g4 = clipTo(svg, "c4", x4, y4);
    drawPeriodogram(g4, x4, y4, fwhmGls);
    drawFrame(svg, {
      x: x4, y: y4, xTicks: periodTicks, yTicks: fwhmPowerTicks,
      xMinor: x4.ticks(), yMinor: d3.range(0, 0.15, 0.005),
      xFmt: fmtG, yFmt: fmt2, titleY: 252, xLabelDy: 44, yLabelX: 388, yLabelSize: 15,
      title: [["Generalized Lomb\u2013Scargle Periodogram"]],
      xLabel: periodLabel, yLabel: pLabel,
    });

    // --- spectral difference near 3.77 d
    const x5 = d3.scaleLog().domain([3.489, 4.0]).range([85, 348]);
    const y5 = d3.scaleLinear().domain([-0.153, 0.3035]).range([637, 507]);
    const g5 = clipTo(svg, "c5", x5, y5);
    drawCurve(g5, x5, y5, diffNarrowDark, "#5a5a5a", 2.4);
    drawCurve(g5, x5, y5, diffNarrowBlack, "#1a1a1a", 2.4);
    drawCurve(g5, x5, y5, diffNarrowGray, "#7c7c7c", 2.6);
    drawMarks(g5, x5, y5, narrowMarks, narrowMarkLabels);
    const diffLabel: Part[] = [["p"], ["(", true], ["\u03c9"], [")", true], [" difference"]];
    drawFrame(svg, {
      x: x5, y: y5, xTicks: narrowPeriodTicks, yTicks: diffTicks,
      xMinor: d3.ticks(3.49, 4, 25), yMinor: d3.range(-0.15, 0.3, 0.02),
      xFmt: fmtG, yFmt: fmt1, titleY: 483, xLabelDy: 43, yLabelX: 41, yLabelSize: 15.5,
      title: [["Spectral difference "], ["(", true], ["RV \u2212 FWHM"], [")", true]],
      xLabel: periodLabel, yLabel: diffLabel,
    });

    // --- spectral difference 8–15 d
    const x6 = d3.scaleLog().domain([8, 14.85]).range([428, 688]);
    const y6 = d3.scaleLinear().domain([-0.153, 0.3035]).range([637, 507]);
    const g6 = clipTo(svg, "c6", x6, y6);
    drawCurve(g6, x6, y6, diffWideDark, "#5a5a5a", 2.4);
    drawCurve(g6, x6, y6, diffWideBlack, "#1a1a1a", 2.4);
    drawCurve(g6, x6, y6, diffWideGray, "#7c7c7c", 2.6);
    drawMarks(g6, x6, y6, wideMarks, wideMarkLabels);
    drawFrame(svg, {
      x: x6, y: y6, xTicks: widePeriodTicks, yTicks: diffTicks,
      xMinor: d3.ticks(8, 14.85, 30), yMinor: d3.range(-0.15, 0.3, 0.02),
      xFmt: fmtG, yFmt: fmt1, titleY: 483, xLabelDy: 43, yLabelX: 384, yLabelSize: 15.5,
      title: [["Spectral difference "], ["(", true], ["RV \u2212 FWHM"], [")", true]],
      xLabel: periodLabel, yLabel: diffLabel,
    });
  }, []);

  return <svg ref={svgRef} width={691} height={683} style={{ display: "block", background: "#fff" }} />;
}

export default function App() {
  return (
    <div style={{ position: "absolute", left: 0, top: 0 }}>
      <SpectralChart />
    </div>
  );
}
